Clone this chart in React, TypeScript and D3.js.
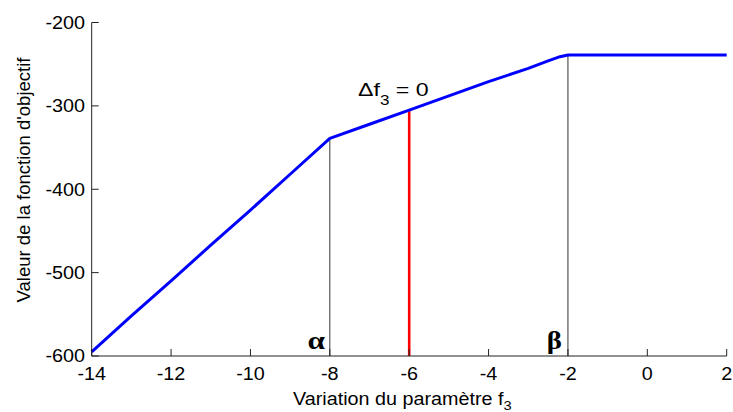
import React from "react";
import * as d3 from "d3";

const xValues = [-14, -13, -12, -11, -10, -9, -8, -7, -6, -5, -4, -3, -2.5, -2.2, -2, 2];
const yValues = [-595, -552, -510, -467, -425, -382, -339, -322, -305, -288, -271, -255, -246, -241, -239, -239];
const xTicks = [-14, -12, -10, -8, -6, -4, -2, 0, 2];
const yTicks = [-600, -500, -400, -300, -200];
const alphaX = -8;
const betaX = -2;
const zeroX = -6;

const W = 733;
const H = 412;
const FONT = "'Liberation Sans', Arial, sans-serif";
const SERIF = "'Liberation Serif', 'Times New Roman', serif";
const SX = 1.13;

function T(props: {
  x: number;
  y: number;
  sx?: number;
  anchor?: "start" | "middle" | "end";
  size: number;
  dy?: string;
  weight?: string;
  family?: string;
  children: React.ReactNode;
}) {
  const { x, y, sx = SX, anchor = "start", size, dy, weight, family, children } = props;
  return (
    <text
      transform={`translate(${x},${y}) scale(${sx},1)`}
      textAnchor={anchor}
      fontSize={size}
      dy={dy}
      fontWeight={weight}
      fontFamily={family}
      fill="#000"
    >
      {children}
    </text>
  );
}

export default function App() {
  const x = d3.scaleLinear().domain([-14, 2]).range([91.7, 726.7]);
  const y = d3.scaleLinear().domain([-600, -200]).range([356, 22.5]);
  const pts: [number, number][] = xValues.map((v, i) => [v, yValues[i]]);
  const line = d3
    .line<[number, number]>()
    .x((d) => x(d[0]))
    .y((d) => y(d[1]));
  const valueAt = (v: number) => yValues[xValues.indexOf(v)];
  const [x0, x1] = x.range();
  const [y0, y1] = y.range();
  const tickLen = 7;

  return (
    <svg
      width={W}
      height={H}
      style={{ position: "absolute", left: 0, top: 0, background: "#fff" }}
      fontFamily={FONT}
    >
      {/* reference lines */}
      <line x1={x(alphaX)} x2={x(alphaX)} y1={y(valueAt(alphaX))} y2={y0} stroke="#333" strokeWidth={1} />
      <line x1={x(betaX)} x2={x(betaX)} y1={y(valueAt(betaX))} y2={y0} stroke="#333" strokeWidth={1} />
      <line x1={x(zeroX)} x2={x(zeroX)} y1={y(valueAt(zeroX))} y2={y0} stroke="#ff0000" strokeWidth={2.6} />

      {/* curve */}
      <path d={line(pts) || ""} fill="none" stroke="#0000ff" strokeWidth={3} strokeLinejoin="round" />

      {/* axes */}
      <line x1={x0} x2={x1} y1={y0} y2={y0} stroke="#222" strokeWidth={1} />
      <line x1={x0} x2={x0} y1={y0} y2={y1} stroke="#222" strokeWidth={1} />
      {xTicks.map((t) => (
        <g key={"xt" + t}>
          <line x1={x(t)} x2={x(t)} y1={y0} y2={y0 - tickLen} stroke="#222" strokeWidth={1} />
          <T x={x(t)} y={380} anchor="middle" size={17.5}>
            {t}
          </T>
        </g>
      ))}
      {yTicks.map((t) => (
        <g key={"yt" + t}>
          <line x1={x0} x2={x0 + tickLen} y1={y(t)} y2={y(t)} stroke="#222" strokeWidth={1} />
          <T x={85} y={y(t)} dy="0.36em" anchor="end" size={17.5}>
            {t}
          </T>
        </g>
      ))}

      {/* axis titles */}
      <T x={293} y={405} size={17.5}>
        Variation du paramètre f
        <tspan fontSize={13} dy={5}>3</tspan>
      </T>
      <text
        transform={`translate(30, 180) rotate(-90)`}
        textAnchor="middle"
        fontSize={18.5}
        fill="#000"
      >
        Valeur de la fonction d'objectif
      </text>

      {/* annotations */}
      <T x={358} y={96} size={19} sx={1.22}>
        Δf
        <tspan fontSize={14} dy={9}>3</tspan>
        <tspan dy={-9}> = 0</tspan>
      </T>
      <T x={x(alphaX) - 5} y={349} anchor="end" size={25} sx={1.25} weight="bold" family={SERIF}>
        α
      </T>
      <T x={x(betaX) - 6} y={349} anchor="end" size={25} sx={1.15} weight="bold" family={SERIF}>
        β
      </T>
    </svg>
  );
}
